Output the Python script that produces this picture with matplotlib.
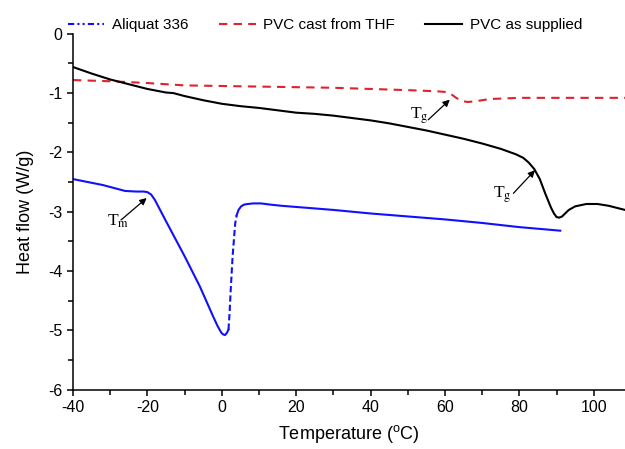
import matplotlib
matplotlib.use("Agg")
import matplotlib.pyplot as plt
from matplotlib.lines import Line2D
from matplotlib.ticker import MultipleLocator

plt.rcParams["font.family"] = ["Liberation Sans", "DejaVu Sans"]
plt.rcParams["mathtext.fontset"] = "custom"
plt.rcParams["mathtext.rm"] = "Liberation Sans"
plt.rcParams["axes.unicode_minus"] = False

# Aliquat 336 (blue) - solid part, dashed steep rise, solid tail
aliq_x1 = [-40, -36, -32, -29, -26, -23, -21, -20, -19, -18, -15, -10, -5.9, -2.3, -1.2, -0.5, 0.0, 0.4, 0.86, 1.3, 1.8]
aliq_y1 = [-2.45, -2.5, -2.55, -2.6, -2.65, -2.66, -2.66, -2.67, -2.71, -2.8, -3.16, -3.75, -4.26, -4.77, -4.92, -5.0, -5.05, -5.07, -5.08, -5.05, -4.99]
aliq_x2 = [1.8, 2.1, 2.4, 2.9, 3.6, 4.0]
aliq_y2 = [-4.99, -4.7, -4.32, -3.76, -3.2, -3.06]
aliq_x3 = [4.0, 4.5, 5.2, 6.0, 7.0, 8.5, 10.5, 13, 16, 20, 30, 40, 50, 60, 70, 80, 91]
aliq_y3 = [-3.06, -2.97, -2.91, -2.88, -2.87, -2.86, -2.86, -2.88, -2.9, -2.92, -2.97, -3.03, -3.08, -3.13, -3.19, -3.26, -3.32]

# PVC cast from THF (red dashed)
thf_x = [-40, -30, -20, -15, -10, 0, 10, 20, 30, 40, 50, 58, 60, 61.5, 63, 64.5, 66, 68, 72, 80, 90, 108.4]
thf_y = [-0.78, -0.8, -0.83, -0.85, -0.87, -0.88, -0.89, -0.9, -0.91, -0.93, -0.95, -0.97, -0.98, -1.01, -1.08, -1.13, -1.15, -1.14, -1.1, -1.08, -1.08, -1.08]

# PVC as supplied (black)
pvc_x = [-40, -35, -30, -25, -20, -15, -13, -10, -5, 0, 5, 10, 15, 20, 25, 30, 35, 40, 45, 50, 55, 60, 65, 70,
         75, 79, 81, 82.5, 84, 85.5, 87, 88.5, 89.3, 90.0, 90.7, 91.5, 92.3, 93.3, 95, 98, 101, 104, 108.4]
pvc_y = [-0.56, -0.67, -0.77, -0.85, -0.93, -0.99, -1.0, -1.05, -1.12, -1.18, -1.22, -1.25, -1.29, -1.33, -1.35,
         -1.38, -1.42, -1.46, -1.51, -1.57, -1.63, -1.7, -1.77, -1.85, -1.94, -2.03, -2.09, -2.17, -2.28, -2.45,
         -2.7, -2.93, -3.03, -3.09, -3.1, -3.08, -3.03, -2.97, -2.91, -2.87, -2.87, -2.9, -2.97]

# annotation labels, label anchor (left edge), arrow tail and head
ann_text = [r"T$_\mathrm{g}$", r"T$_\mathrm{g}$", r"T$_\mathrm{m}$"]
ann_xy_text = [(50.6, -1.38), (72.9, -2.72), (-30.9, -3.17)]
ann_tail = [(55.5, -1.45), (78.4, -2.69), (-27.1, -3.14)]
ann_head = [(61.3, -1.11), (84.2, -2.30), (-20.2, -2.77)]

blue = "#1010ff"
red = "#e0222c"

fig = plt.figure(figsize=(6.25, 4.49), dpi=100)
ax = fig.add_axes([0.1168, 0.1323, 0.8832, 0.7924])

ax.plot(aliq_x1, aliq_y1, color=blue, lw=1.5)
ax.plot(aliq_x2, aliq_y2, color=blue, lw=1.5, ls=(0, (3, 1.5)))
ax.plot(aliq_x3, aliq_y3, color=blue, lw=1.5)
ax.plot(thf_x, thf_y, color=red, lw=1.5, ls=(0, (4, 3)))
ax.plot(pvc_x, pvc_y, color="black", lw=1.5)

for txt, pos, tail, head in zip(ann_text, ann_xy_text, ann_tail, ann_head):
    ax.text(pos[0], pos[1], txt, fontsize=12.5, family="Liberation Serif", math_fontfamily="stix",
            ha="left", va="center")
    ax.annotate("", xy=head, xytext=tail,
                arrowprops=dict(arrowstyle="-|>", color="black", lw=0.9, mutation_scale=10,
                                shrinkA=0, shrinkB=0))

ax.set_xlim(-40, 108.4)
ax.set_ylim(-6, 0)
ax.xaxis.set_major_locator(MultipleLocator(20))
ax.xaxis.set_minor_locator(MultipleLocator(10))
ax.yaxis.set_major_locator(MultipleLocator(1))
ax.yaxis.set_minor_locator(MultipleLocator(0.5))
for s in ["top", "right"]:
    ax.spines[s].set_visible(False)
for s in ["left", "bottom"]:
    ax.spines[s].set_linewidth(1.1)
ax.tick_params(which="both", direction="out", width=1.1, labelsize=11.5)
ax.tick_params(which="major", length=4)
ax.tick_params(which="minor", length=3.5)

ax.set_xlabel(r"Temperature ($^\mathrm{o}$C)", fontsize=13, labelpad=6)
ax.set_ylabel("Heat flow (W/g)", fontsize=13, labelpad=10)

handles = [
    Line2D([], [], color=blue, lw=1.5, ls=(0, (3, 1.5, 1, 1.5, 1, 1.5))),
    Line2D([], [], color=red, lw=1.5, ls=(0, (4, 3))),
    Line2D([], [], color="black", lw=1.5),
]
labels = ["Aliquat 336", "PVC cast from THF", "PVC as supplied"]
fig.legend(handles, labels, loc="center left", bbox_to_anchor=(0.108, 0.944), ncol=3, frameon=False,
           fontsize=11, handlelength=2.4, handletextpad=0.5, columnspacing=2.0, borderpad=0, borderaxespad=0)

fig.savefig("out.png", dpi=100)
